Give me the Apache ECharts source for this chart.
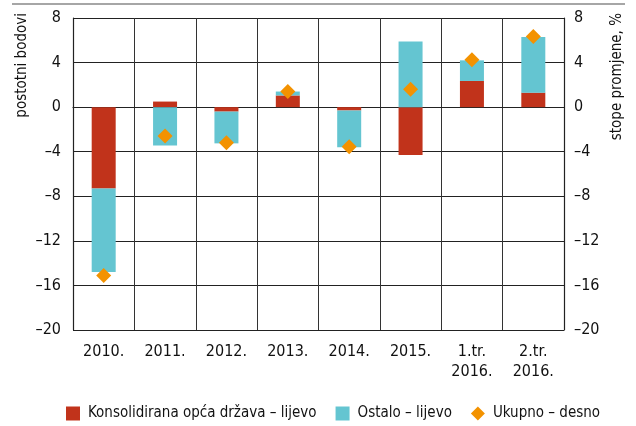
<!DOCTYPE html>
<html>
<head>
<meta charset="utf-8">
<script src="https://cdn.jsdelivr.net/npm/echarts@6/dist/echarts.min.js"></script>
<style>
  html, body { margin: 0; padding: 0; background: #fff; }
  #chart { width: 636px; height: 426px; }
</style>
</head>
<body>
<div id="chart"></div>
<script>
var categories = ['2010.', '2011.', '2012.', '2013.', '2014.', '2015.', '1.tr.\n2016.', '2.tr.\n2016.'];
var drzava = [-7.3, 0.5, -0.4, 1.05, -0.3, -4.3, 2.35, 1.3];
var ostalo = [-7.5, -3.45, -2.85, 0.35, -3.3, 5.9, 1.85, 5.0];
var ukupno = [-15.1, -2.6, -3.2, 1.4, -3.55, 1.6, 4.25, 6.35];
var yTicks = { min: -20, max: 8, interval: 4 };

var font = '"Liberation Sans Narrow", "DejaVu Sans Condensed", sans-serif';
var dash = function (v) { return String(v).replace('-', '\u2013'); };

var myChart = echarts.init(document.getElementById('chart'));
var option = {
  animation: false,
  textStyle: { fontFamily: font },
  grid: { left: 73, right: 72, top: 18, bottom: 96 },
  legend: {
    top: 406,
    left: 66,
    padding: 0,
    itemWidth: 14,
    itemHeight: 14,
    itemGap: 19,
    textStyle: { fontFamily: font, fontSize: 15, color: '#111', padding: [0, 0, 0, 3] },
    data: [
      { name: 'Konsolidirana opća država – lijevo', icon: 'rect' },
      { name: 'Ostalo – lijevo', icon: 'rect' },
      { name: 'Ukupno – desno', icon: 'diamond' }
    ]
  },
  xAxis: {
    type: 'category',
    data: categories,
    axisLine: { lineStyle: { color: '#222', width: 1.2 } },
    axisTick: { show: false },
    axisLabel: { fontFamily: font, fontSize: 16, color: '#111', margin: 12, lineHeight: 20 },
    splitLine: { show: true, lineStyle: { color: '#333', width: 1 } }
  },
  yAxis: [
    {
      type: 'value', min: yTicks.min, max: yTicks.max, interval: yTicks.interval,
      axisLine: { show: true, lineStyle: { color: '#222', width: 1.2 } },
      axisTick: { show: false },
      axisLabel: { fontFamily: font, fontSize: 16, color: '#111', margin: 12, formatter: dash },
      splitLine: { show: true, lineStyle: { color: '#222', width: 1 } }
    },
    {
      type: 'value', min: yTicks.min, max: yTicks.max, interval: yTicks.interval,
      axisLine: { show: true, lineStyle: { color: '#222', width: 1.2 } },
      axisTick: { show: false },
      axisLabel: { fontFamily: font, fontSize: 16, color: '#111', margin: 10, formatter: dash },
      splitLine: { show: false }
    }
  ],
  graphic: [
    {
      type: 'line',
      shape: { x1: 12, y1: 4, x2: 625, y2: 4 },
      style: { stroke: '#888', lineWidth: 1.5 }
    },
    {
      type: 'text', x: 22, y: 13, rotation: Math.PI / 2,
      style: { text: 'postotni bodovi', fontFamily: font, fontSize: 15, fill: '#111', align: 'right', verticalAlign: 'middle' }
    },
    {
      type: 'text', x: 617, y: 13, rotation: Math.PI / 2,
      style: { text: 'stope promjene, %', fontFamily: font, fontSize: 15, fill: '#111', align: 'right', verticalAlign: 'middle' }
    }
  ],
  series: [
    {
      name: 'Konsolidirana opća država – lijevo',
      type: 'bar', stack: 'a', barWidth: 24,
      itemStyle: { color: '#c1331b' },
      data: drzava
    },
    {
      name: 'Ostalo – lijevo',
      type: 'bar', stack: 'a', barWidth: 24,
      itemStyle: { color: '#64c5d1' },
      data: ostalo
    },
    {
      name: 'Ukupno – desno',
      type: 'scatter', yAxisIndex: 1,
      symbol: 'diamond', symbolSize: 15,
      itemStyle: { color: '#f39200', opacity: 1 },
      data: ukupno,
      z: 5
    }
  ]
};
myChart.setOption(option);
</script>
</body>
</html>
